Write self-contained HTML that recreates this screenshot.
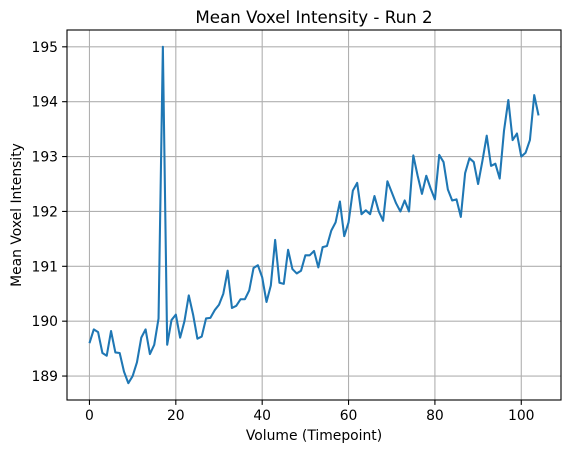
<!DOCTYPE html>
<html><head><meta charset="utf-8"><style>
body{margin:0;background:#fff;font-family:"Liberation Sans","DejaVu Sans",sans-serif;}
svg text{font-family:"DejaVu Sans","Liberation Sans",sans-serif;}
</style></head><body>
<svg id="chart" width="571" height="453"></svg>
<script>
const volumes = Array.from({length:105},(_,i)=>i);
const intensity = [189.6,189.85,189.8,189.42,189.37,189.82,189.43,189.42,189.08,188.87,189.0,189.25,189.7,189.85,189.4,189.57,190.05,195.0,189.57,190.02,190.12,189.7,190.0,190.47,190.12,189.68,189.72,190.05,190.06,190.2,190.3,190.5,190.92,190.24,190.28,190.4,190.4,190.56,190.97,191.02,190.8,190.35,190.65,191.48,190.7,190.68,191.3,190.95,190.87,190.92,191.2,191.2,191.28,190.98,191.35,191.37,191.65,191.8,192.18,191.55,191.8,192.38,192.52,191.95,192.02,191.95,192.28,192.0,191.83,192.55,192.35,192.15,192.0,192.2,192.0,193.02,192.65,192.32,192.65,192.42,192.22,193.03,192.9,192.4,192.2,192.22,191.9,192.7,192.97,192.9,192.5,192.92,193.38,192.83,192.87,192.6,193.47,194.03,193.3,193.42,193.0,193.07,193.3,194.12,193.75];
const xTicks = [0,20,40,60,80,100];
const yTicks = [189,190,191,192,193,194,195];

const svg = document.getElementById('chart');
const NS = 'http://www.w3.org/2000/svg';
const L=67,R=561,T=30,B=400;
const xmin=-5.2,xmax=109.2;
const ymin=Math.min(...intensity),ymax=Math.max(...intensity),pad=(ymax-ymin)*0.05;
const y0=ymin-pad,y1=ymax+pad;
const sx=v=>L+(v-xmin)/(xmax-xmin)*(R-L);
const sy=v=>B-(v-y0)/(y1-y0)*(B-T);
function mk(tag,attrs,parent){const e=document.createElementNS(NS,tag);for(const k in attrs)e.setAttribute(k,attrs[k]);(parent||svg).appendChild(e);return e;}

const grid=mk('g',{});


xTicks.forEach(t=>{
  const l=mk('line',{x1:sx(t),x2:sx(t),y1:T,y2:B,stroke:'#b0b0b0','stroke-width':1.1},grid);
  
  
  const tk=mk('line',{x1:sx(t),x2:sx(t),y1:B,y2:B+4.9,stroke:'#000','stroke-width':1.1});
  
  
  const tx=mk('text',{x:sx(t),y:B+20,'text-anchor':'middle','font-size':13.9});
  tx.textContent=t;
  
  
});
yTicks.forEach(t=>{
  const l=mk('line',{x1:L,x2:R,y1:sy(t),y2:sy(t),stroke:'#b0b0b0','stroke-width':1.1},grid);
  
  
  const tk=mk('line',{x1:L-4.9,x2:L,y1:sy(t),y2:sy(t),stroke:'#000','stroke-width':1.1});
  
  
  const tx=mk('text',{x:L-9,y:sy(t)+5,'text-anchor':'end','font-size':13.9});
  tx.textContent=t;
  
  
});
const line=mk('polyline',{points:volumes.map((v,i)=>sx(v)+','+sy(intensity[i])).join(' '),fill:'none',stroke:'#1f77b4','stroke-width':2.08,'stroke-linejoin':'round'});


const frame=mk('rect',{x:L,y:T,width:R-L,height:B-T,fill:'none',stroke:'#000','stroke-width':1.1});


const title=mk('text',{x:(L+R)/2,y:T-7,'text-anchor':'middle','font-size':16.7});
title.textContent='Mean Voxel Intensity - Run 2';


const xl=mk('text',{x:(L+R)/2,y:440,'text-anchor':'middle','font-size':13.9});
xl.textContent='Volume (Timepoint)';


const yl=mk('text',{x:0,y:0,'text-anchor':'middle','font-size':13.9,transform:'translate(21,'+((T+B)/2)+') rotate(-90)'});
yl.textContent='Mean Voxel Intensity';


</script>
</body></html>
